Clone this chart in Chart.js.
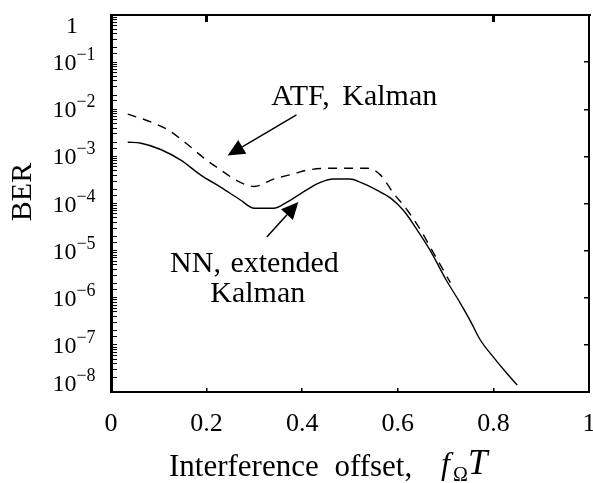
<!DOCTYPE html>
<html><head><meta charset="utf-8">
<script src="https://cdn.jsdelivr.net/npm/chart.js@4.4.1/dist/chart.umd.min.js"></script>
<style>html,body{margin:0;padding:0;background:#fff;}</style>
</head><body>
<canvas id="c" width="593" height="483"></canvas>
<script>
// ---- data ----
const nnX   = [0.035, 0.063, 0.104, 0.146, 0.188, 0.23, 0.27, 0.30, 0.34, 0.37, 0.418, 0.438, 0.466, 0.50, 0.522, 0.557, 0.585, 0.612, 0.64, 0.668, 0.70, 0.73, 0.752, 0.772, 0.80, 0.828, 0.85];
const nnBER = [2.0e-3, 1.9e-3, 1.4e-3, 8.3e-4, 4.0e-4, 2.2e-4, 1.2e-4, 7.9e-5, 7.9e-5, 1.1e-4, 2.2e-4, 2.8e-4, 3.3e-4, 3.3e-4, 2.8e-4, 1.9e-4, 1.3e-4, 7.1e-5, 2.8e-5, 1.0e-5, 2.5e-6, 7.9e-7, 3.2e-7, 1.3e-7, 5.5e-8, 2.5e-8, 1.4e-8];
const atfX   = [0.035, 0.083, 0.12, 0.157, 0.195, 0.23, 0.265, 0.30, 0.34, 0.38, 0.41, 0.466, 0.536, 0.564, 0.59, 0.62, 0.647, 0.672, 0.71];
const atfBER = [7.9e-3, 5.4e-3, 3.6e-3, 1.9e-3, 9.1e-4, 5.1e-4, 3.0e-4, 2.3e-4, 3.3e-4, 4.2e-4, 5.1e-4, 5.6e-4, 5.6e-4, 4.0e-4, 1.7e-4, 7.2e-5, 2.8e-5, 1.0e-5, 2.1e-6];
const xTickValues = [0, 0.2, 0.4, 0.6, 0.8, 1];
const xTickLabels = ['0', '0.2', '0.4', '0.6', '0.8', '1'];
const topTickValues = [0.2, 0.8];
const yDecadeExps = [0, -1, -2, -3, -4, -5, -6, -7, -8];
const atfLabel = 'ATF, Kalman';
const nnLabel1 = 'NN, extended';
const nnLabel2 = 'Kalman';
const xTitle = 'Interference offset,';
const yTitle = 'BER';

const FAM = '"Liberation Serif", "Times New Roman", serif';

const overlay = {
  id: 'overlay',
  afterDraw(chart) {
    const ctx = chart.ctx, xs = chart.scales.x, ys = chart.scales.y;
    ctx.save();
    ctx.fillStyle = '#000'; ctx.strokeStyle = '#000';
    ctx.textBaseline = 'alphabetic';
    // y tick labels with superscripts
    yDecadeExps.forEach(e => {
      const py = ys.getPixelForValue(Math.pow(10, e));
      const base = Math.min(Math.max(py + 8, 33), 391);
      const cx = 74;
      ctx.font = '24px ' + FAM;
      if (e === 0) { ctx.textAlign = 'center'; ctx.fillText('1', cx - 2, base); return; }
      const w1 = ctx.measureText('10').width;
      const sup = '\u2212' + Math.abs(e);
      ctx.font = '18px ' + FAM;
      const w2 = ctx.measureText(sup).width;
      const x0 = cx - (w1 + w2) / 2;
      ctx.textAlign = 'left';
      ctx.font = '24px ' + FAM; ctx.fillText('10', x0, base);
      ctx.font = '18px ' + FAM; ctx.fillText(sup, x0 + w1, base - 10);
    });
    // y-axis title
    ctx.save();
    ctx.translate(23, 192);
    ctx.rotate(-Math.PI / 2);
    ctx.textAlign = 'center'; ctx.textBaseline = 'middle';
    ctx.font = '30px ' + FAM;
    ctx.fillText(yTitle, 0, 0);
    ctx.restore();
    // x-axis title
    ctx.textAlign = 'left';
    ctx.font = '31px ' + FAM;
    ctx.wordSpacing = '8px';
    ctx.fillText(xTitle, 169, 476);
    ctx.wordSpacing = '0px';
    ctx.font = 'italic 32px ' + FAM; ctx.fillText('f', 441, 474);
    ctx.font = '20px ' + FAM; ctx.fillText('\u03A9', 453, 481);
    ctx.font = 'italic 35px ' + FAM; ctx.fillText('T', 468, 474);
    // annotations
    const P = (x, y) => [xs.getPixelForValue(x), ys.getPixelForValue(y)];
    function arrow(a, b) {
      const [x1, y1] = a, [x2, y2] = b;
      const ang = Math.atan2(y2 - y1, x2 - x1), L = 17, W = 8;
      const bx = x2 - L * Math.cos(ang), by = y2 - L * Math.sin(ang);
      ctx.lineWidth = 1.5;
      ctx.setLineDash([]);
      ctx.beginPath(); ctx.moveTo(x1, y1); ctx.lineTo(bx, by); ctx.stroke();
      ctx.beginPath(); ctx.moveTo(x2, y2);
      ctx.lineTo(bx + W * Math.sin(ang), by - W * Math.cos(ang));
      ctx.lineTo(bx - W * Math.sin(ang), by + W * Math.cos(ang));
      ctx.closePath(); ctx.fill();
    }
    arrow(P(0.388, Math.pow(10, -2.12)), P(0.244, Math.pow(10, -2.98)));
    arrow(P(0.326, Math.pow(10, -4.71)), P(0.392, Math.pow(10, -3.97)));
    ctx.font = '30px ' + FAM;
    ctx.textAlign = 'center';
    ctx.wordSpacing = '5px';
    let p = P(0.509, Math.pow(10, -1.91)); ctx.fillText(atfLabel, p[0], p[1]);
    ctx.wordSpacing = '2px';
    p = P(0.300, Math.pow(10, -5.46)); ctx.fillText(nnLabel1, p[0], p[1]);
    ctx.wordSpacing = '0px';
    p = P(0.307, Math.pow(10, -6.09)); ctx.fillText(nnLabel2, p[0], p[1]);
    ctx.restore();
  }
};

new Chart(document.getElementById('c'), {
  type: 'line',
  data: {
    datasets: [
      { label: 'NN, extended Kalman', data: nnX.map((x, i) => ({ x, y: nnBER[i] })),
        borderColor: '#000', borderWidth: 1.4, pointRadius: 0, fill: false,
        cubicInterpolationMode: 'monotone', xAxisID: 'x', yAxisID: 'y' },
      { label: 'ATF, Kalman', data: atfX.map((x, i) => ({ x, y: atfBER[i] })),
        borderColor: '#000', borderWidth: 1.4, borderDash: [9, 7], pointRadius: 0, fill: false,
        cubicInterpolationMode: 'monotone', xAxisID: 'x', yAxisID: 'y' }
    ]
  },
  options: {
    responsive: false, animation: false, devicePixelRatio: 1,
    layout: { padding: 0 },
    plugins: { legend: { display: false }, tooltip: { enabled: false } },
    scales: {
      x: { type: 'linear', position: 'bottom', min: 0, max: 1,
        ticks: { font: { family: FAM, size: 26 }, color: '#000', padding: 21, autoSkip: false, maxRotation: 0,
                 callback: (v, i) => xTickLabels[i] },
        grid: { drawOnChartArea: false, tickLength: -4, color: '#000', lineWidth: 1.5 },
        border: { display: true, color: '#000', width: 2 },
        afterBuildTicks: s => { s.ticks = xTickValues.map(v => ({ value: v })); },
        afterFit: s => { s.height = 91; s.paddingLeft = 0; s.paddingRight = 0; } },
      x2: { type: 'linear', position: 'top', min: 0, max: 1,
        ticks: { display: false },
        grid: { drawOnChartArea: false, tickLength: -7, color: '#000', lineWidth: 3 },
        border: { display: true, color: '#000', width: 2 },
        afterBuildTicks: s => { s.ticks = topTickValues.map(v => ({ value: v })); },
        afterFit: s => { s.height = 15; s.paddingLeft = 0; s.paddingRight = 0; } },
      y: { type: 'logarithmic', position: 'left', min: 1e-8, max: 1,
        ticks: { display: false },
        grid: { drawOnChartArea: false, tickLength: -6, color: '#000', lineWidth: 1 },
        border: { display: true, color: '#000', width: 3 },
        afterFit: s => { s.width = 111; s.paddingTop = 0; s.paddingBottom = 0; } },
      y2: { type: 'logarithmic', position: 'right', min: 1e-8, max: 1,
        ticks: { display: false },
        grid: { drawOnChartArea: false, tickLength: -5, color: '#000', lineWidth: 1.5 },
        border: { display: true, color: '#000', width: 2 },
        afterBuildTicks: s => { s.ticks = yDecadeExps.map(e => ({ value: Math.pow(10, e) })); },
        afterFit: s => { s.width = 4; s.paddingTop = 0; s.paddingBottom = 0; } }
    }
  },
  plugins: [overlay]
});
</script>
</body></html>
